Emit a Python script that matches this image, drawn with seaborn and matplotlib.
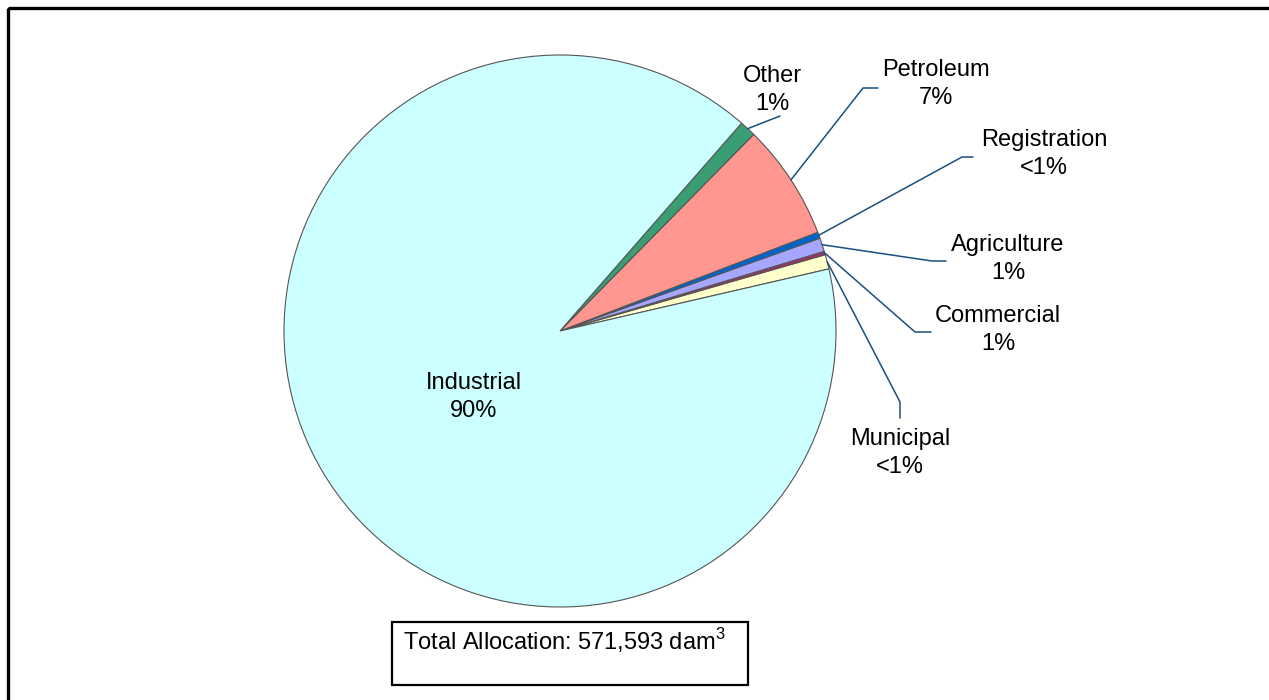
import numpy as np
import seaborn as sns
import matplotlib.pyplot as plt
from matplotlib.patches import Rectangle

# wedge order is counterclockwise from the lower edge of the small slices
sectors = ['Municipal', 'Commercial', 'Agriculture', 'Registration', 'Petroleum', 'Other', 'Industrial']
shares = [0.85, 0.2, 0.8, 0.36, 6.8, 0.95, 90.04]
pct_text = ['<1%', '1%', '1%', '<1%', '7%', '1%', '90%']
colors = ['#FFFFCC', '#993366', '#A6A6FF', '#0066CC', '#FF968F', '#3A9E75', '#CCFFFF']
total_text = 'Total Allocation: 571,593 dam$^3$'

sns.set_theme(style='white')
plt.rcParams['font.family'] = ['Liberation Sans', 'DejaVu Sans']
plt.rcParams['mathtext.fontset'] = 'custom'
plt.rcParams['mathtext.rm'] = 'Liberation Sans'

W, H = 1269, 700
fig = plt.figure(figsize=(W / 100, H / 100), dpi=100)
ax = fig.add_axes([0, 0, 1, 1])

cx, cy, R = 560, 331, 276
# y axis is inverted below, so clockwise in data = counterclockwise on screen
wedges, _ = ax.pie(shares, colors=colors, center=(cx, cy), radius=R,
                   startangle=-13, counterclock=False,
                   wedgeprops=dict(edgecolor='#555555', linewidth=0.8),
                   frame=True)
ax.set_xlim(0, W)
ax.set_ylim(H, 0)   # pixel coords, y down
ax.axis('off')

fs = 17
lead_col = '#1A4F80'
# label centres and leader line bends (pixels)
label_pos = {'Other': (772, 90), 'Petroleum': (936, 84), 'Registration': (1044, 154),
             'Agriculture': (1008, 259), 'Commercial': (998, 330), 'Municipal': (900, 453),
             'Industrial': (474, 397)}
leader_pts = {'Other': [(780, 116)],
              'Petroleum': [(863, 88), (878, 88)],
              'Registration': [(962, 157), (973, 157)],
              'Agriculture': [(932, 261), (946, 261)],
              'Commercial': [(915, 332), (931, 332)],
              'Municipal': [(900, 402), (900, 418)]}

for w, name, pct in zip(wedges, sectors, pct_text):
    lx, ly = label_pos[name]
    ax.text(lx, ly, f'{name}\n{pct}', ha='center', va='center', fontsize=fs,
            color='black', linespacing=1.38)
    if name in leader_pts:
        mid = np.deg2rad((w.theta1 + w.theta2) / 2)
        sx, sy = cx + R * np.cos(mid), cy + R * np.sin(mid)
        pts = [(sx, sy)] + leader_pts[name]
        ax.plot([p[0] for p in pts], [p[1] for p in pts], color=lead_col, lw=1.1)

# total box
ax.add_patch(Rectangle((392, 622), 356, 63, fill=False, edgecolor='black', lw=1.6))
ax.text(403, 641, total_text, ha='left', va='center', fontsize=fs, color='black')

# outer frame (right/bottom edges off canvas)
ax.add_patch(Rectangle((7.5, 7.5), W + 50, H + 50, fill=False, edgecolor='black',
                       lw=2.4, clip_on=False))

fig.savefig('out.png', dpi=100)
